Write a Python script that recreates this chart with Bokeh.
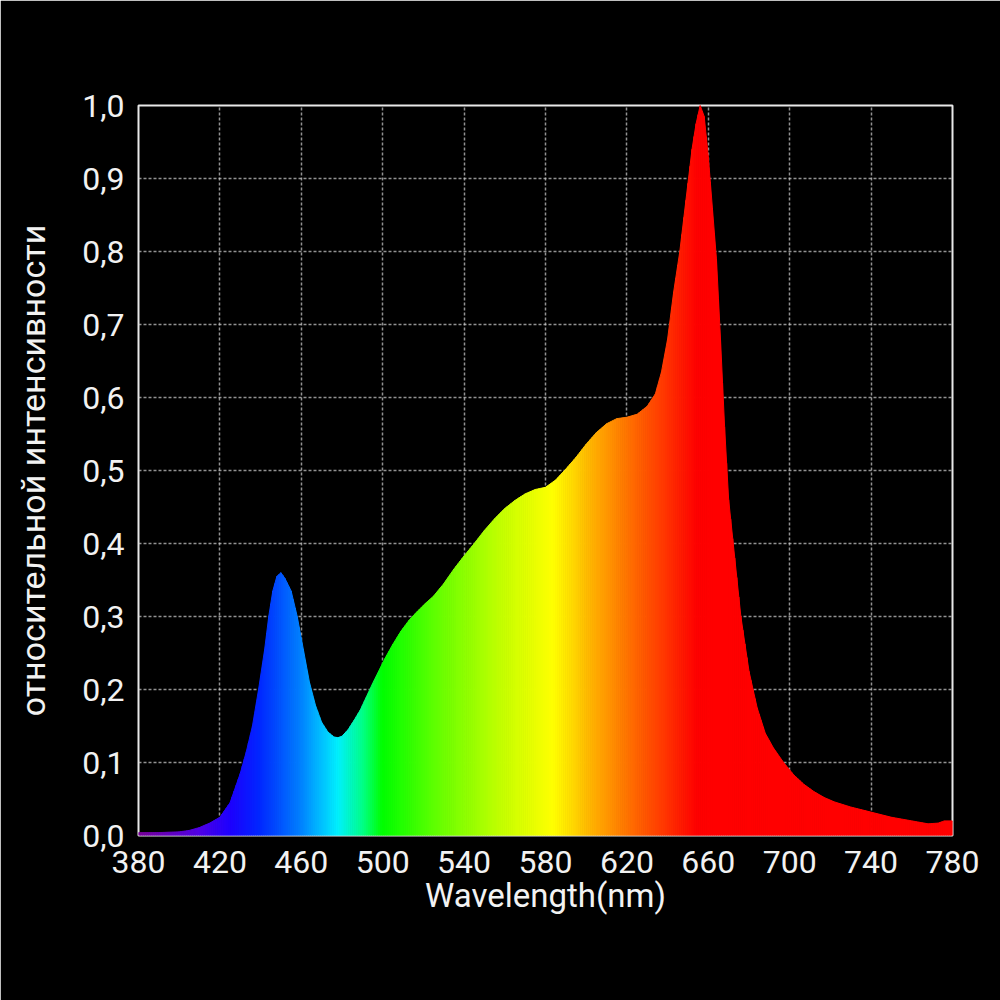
import numpy as np
from bokeh.plotting import figure
from bokeh.models import FixedTicker, Range1d
from bokeh.embed import file_html
from bokeh.resources import INLINE

# ---- data ----
wavelength = [380, 390, 400, 405, 410, 415, 420, 425, 430, 433, 436, 439, 442, 444, 446, 448,
              450, 452, 455, 458, 461, 464, 467, 470, 473, 476, 478, 480, 483, 486, 489, 492,
              495, 498, 501, 505, 509, 513, 517, 521, 525, 530, 535, 540, 545, 550, 555, 560,
              565, 570, 575, 580, 585, 590, 595, 600, 605, 610, 615, 620, 625, 630, 634, 637,
              640, 643, 646, 649, 652, 654, 656, 658, 660, 662, 664, 666, 668, 670, 673, 676,
              680, 684, 688, 692, 697, 702, 707, 712, 717, 722, 730, 740, 750, 760, 768, 773,
              776, 780]
intensity = [0.004, 0.004, 0.005, 0.007, 0.011, 0.017, 0.025, 0.045, 0.085, 0.115, 0.15, 0.20,
             0.255, 0.30, 0.335, 0.355, 0.360, 0.352, 0.335, 0.30, 0.255, 0.21, 0.178, 0.155,
             0.142, 0.135, 0.134, 0.136, 0.145, 0.158, 0.172, 0.19, 0.208, 0.225, 0.242, 0.262,
             0.28, 0.295, 0.307, 0.318, 0.328, 0.345, 0.365, 0.383, 0.40, 0.418, 0.434, 0.448,
             0.459, 0.468, 0.474, 0.477, 0.487, 0.502, 0.518, 0.536, 0.552, 0.564, 0.571, 0.573,
             0.577, 0.588, 0.605, 0.635, 0.68, 0.745, 0.80, 0.87, 0.94, 0.975, 1.0, 0.985,
             0.93, 0.86, 0.79, 0.68, 0.56, 0.46, 0.38, 0.30, 0.225, 0.175, 0.14, 0.12, 0.10,
             0.083, 0.07, 0.06, 0.052, 0.046, 0.039, 0.032, 0.025, 0.02, 0.016, 0.017, 0.02, 0.02]

x_ticks = [380, 420, 460, 500, 540, 580, 620, 660, 700, 740, 780]
y_ticks = [0.0, 0.1, 0.2, 0.3, 0.4, 0.5, 0.6, 0.7, 0.8, 0.9, 1.0]
y_tick_labels = ["0,0", "0,1", "0,2", "0,3", "0,4", "0,5", "0,6", "0,7", "0,8", "0,9", "1,0"]
x_label = "Wavelength(nm)"
y_label = "относительной интенсивности"

# ---- colour stops for the spectral gradient (style) ----
stop_nm = [380, 410, 425, 440, 460, 478, 490, 500, 530, 560, 584, 605, 625, 640, 655, 780]
stop_rgb = [(120, 0, 150), (80, 0, 230), (30, 0, 255), (0, 40, 255), (0, 130, 255),
            (0, 240, 255), (0, 255, 140), (0, 255, 0), (110, 255, 0), (200, 255, 0),
            (255, 255, 0), (255, 170, 0), (255, 100, 0), (255, 50, 0), (255, 0, 0), (255, 0, 0)]


def spectral_color(nm):
    r = np.interp(nm, stop_nm, [c[0] for c in stop_rgb])
    g = np.interp(nm, stop_nm, [c[1] for c in stop_rgb])
    b = np.interp(nm, stop_nm, [c[2] for c in stop_rgb])
    return "#%02x%02x%02x" % (int(round(r)), int(round(g)), int(round(b)))


# each straight segment between two read points is drawn as thin slices of the
# same trapezoid so that the colour can change smoothly across it
xs, ys, cols = [], [], []
for i in range(len(wavelength) - 1):
    w0, w1 = wavelength[i], wavelength[i + 1]
    v0, v1 = intensity[i], intensity[i + 1]
    n = max(1, int(round(w1 - w0)))
    for k in range(n):
        t0, t1 = k / n, (k + 1) / n
        a, b = w0 + (w1 - w0) * t0, w0 + (w1 - w0) * t1
        ya, yb = v0 + (v1 - v0) * t0, v0 + (v1 - v0) * t1
        xs.append([a, b, b, a])
        ys.append([0, 0, yb, ya])
        cols.append(spectral_color((a + b) / 2))

p = figure(width=1000, height=1000, x_range=Range1d(380, 780), y_range=Range1d(0, 1.0),
           output_backend="svg", toolbar_location=None,
           background_fill_color="black", border_fill_color="black",
           min_border_left=138, min_border_right=48, min_border_top=105, min_border_bottom=165)

p.patches(xs, ys, fill_color=cols, line_color=cols, line_width=1)

p.outline_line_color = "#e8e8e8"
p.outline_line_width = 2

for ax in (p.xaxis[0], p.yaxis[0]):
    ax.axis_line_color = None
    ax.major_tick_line_color = None
    ax.minor_tick_line_color = None
    ax.major_tick_out = 0
    ax.major_tick_in = 0
    ax.major_label_text_font = "Roboto"
    ax.major_label_text_font_size = "32px"
    ax.major_label_text_color = "#f2f2f2"
    ax.axis_label_text_font = "Roboto"
    ax.axis_label_text_font_style = "normal"
    ax.axis_label_text_color = "#f2f2f2"

p.xaxis.ticker = FixedTicker(ticks=x_ticks)
p.yaxis.ticker = FixedTicker(ticks=y_ticks)
p.yaxis.major_label_overrides = {t: l for t, l in zip(y_ticks, y_tick_labels)}
p.xaxis.major_label_standoff = 15
p.yaxis.major_label_standoff = 14
p.xaxis.axis_label = x_label
p.yaxis.axis_label = y_label
p.xaxis.axis_label_text_font_size = "33px"
p.yaxis.axis_label_text_font_size = "34px"
p.xaxis.axis_label_standoff = 0
p.yaxis.axis_label_standoff = 26

p.xgrid.ticker = FixedTicker(ticks=x_ticks[1:-1])
p.ygrid.ticker = FixedTicker(ticks=y_ticks[1:-1])
for g in (p.xgrid[0], p.ygrid[0]):
    g.grid_line_color = "#d0d0d0"
    g.grid_line_dash = "3 2"
    g.grid_line_width = 1.5
    g.grid_line_alpha = 0.7

open("out.html", "w").write(file_html(p, INLINE))
